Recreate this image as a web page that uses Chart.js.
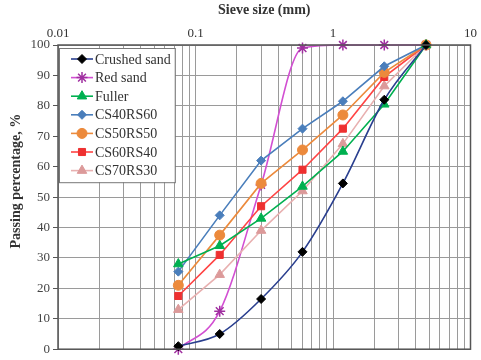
<!DOCTYPE html>
<html>
<head>
<meta charset="utf-8">
<script src="https://cdn.jsdelivr.net/npm/chart.js@4/dist/chart.umd.min.js"></script>
<style>
html,body{margin:0;padding:0;background:#fff;}
#wrap{width:481px;height:360px;position:relative;}
</style>
</head>
<body>
<div id="wrap"><canvas id="c" width="481" height="360"></canvas></div>
<script>
const sieveSizes = [0.075, 0.15, 0.3, 0.6, 1.18, 2.36, 4.75];
const crushedSand = [1, 5, 16.5, 32, 54.5, 82, 100];
const redSand = [0, 12.5, 54, 99, 100, 100, 100];
const fuller = [28, 34, 43, 53.5, 65, 80.5, 100];
const cs40rs60 = [25.5, 44, 62, 72.5, 81.5, 93, 100];
const cs50rs50 = [21, 37.5, 54.5, 65.5, 77, 91, 100];
const cs60rs40 = [17.5, 31, 47, 59, 72.5, 89.5, 100];
const cs70rs30 = [13, 24.5, 39, 52, 67.5, 86.5, 100];
const seriesNames = ['Crushed sand','Red sand','Fuller','CS40RS60','CS50RS50','CS60RS40','CS70RS30'];
const xTickLabels = [0.01, 0.1, 1, 10];
const yTicks = [0,10,20,30,40,50,60,70,80,90,100];
const yTitle = 'Passing percentage, %';

const pts = arr => arr.map((v,i)=>({x:sieveSizes[i], y:v}));
const styles = [
  {line:'#2a3f8f', fill:'#000000', pt:'rectRot', r:4.5, smooth:true, order:0},
  {line:'#d24fd2', fill:'#a030a0', pt:'star', r:5.5, smooth:true, order:10},
  {line:'#00b050', fill:'#00b050', pt:'triangle', r:5.5, order:2},
  {line:'#4a7ebb', fill:'#4a7ebb', pt:'rectRot', r:4.5, order:3},
  {line:'#ec8a3c', fill:'#ec8a3c', pt:'circle', r:5, order:4},
  {line:'#ff4444', fill:'#ee3030', pt:'rect', r:5, order:5},
  {line:'#e8b0b0', fill:'#dc9a9a', pt:'triangle', r:5.5, order:6}
];
const allData = [crushedSand, redSand, fuller, cs40rs60, cs50rs50, cs60rs40, cs70rs30];
const datasets = allData.map((d,i)=>({
  label: seriesNames[i],
  data: pts(d),
  borderColor: styles[i].line,
  backgroundColor: styles[i].fill,
  pointBackgroundColor: styles[i].fill,
  pointBorderColor: styles[i].fill,
  pointBorderWidth: styles[i].pt==='star' ? 1.5 : 1,
  pointStyle: styles[i].pt,
  pointRadius: styles[i].r,
  borderWidth: 1.6,
  cubicInterpolationMode: styles[i].smooth ? 'monotone' : 'default',
  tension: 0,
  clip: false,
  order: styles[i].order
}));

const serif = '"Liberation Serif", "DejaVu Serif", serif';

const frameAndLegend = {
  id:'frameAndLegend',
  afterDraw(chart){
    const ctx = chart.ctx, a = chart.chartArea;
    ctx.save();
    ctx.translate(16, (a.top + a.bottom)/2 - 16);
    ctx.rotate(-Math.PI/2);
    ctx.font = 'bold 14px ' + serif;
    ctx.fillStyle = '#333';
    ctx.textAlign = 'center';
    ctx.textBaseline = 'middle';
    ctx.fillText(yTitle, 0, 0);
    ctx.restore();
  },
  afterDatasetsDraw(chart){
    const ctx = chart.ctx, a = chart.chartArea;
    ctx.save();
    ctx.strokeStyle = '#555';
    ctx.lineWidth = 1.5;
    ctx.strokeRect(a.left, a.top, a.right - a.left, a.bottom - a.top);
    ctx.font = '14px ' + serif;
    let maxW = 0;
    seriesNames.forEach(n=>{ maxW = Math.max(maxW, ctx.measureText(n).width); });
    const bx = a.left + 1, by = a.top + 3;
    const rowH = 18.6;
    const bw = 12 + 22 + 2 + maxW + 4;
    const bh = rowH * seriesNames.length + 4;
    ctx.fillStyle = '#fff';
    ctx.fillRect(bx, by, bw, bh);
    ctx.strokeStyle = '#777';
    ctx.lineWidth = 1;
    ctx.strokeRect(bx+0.5, by+0.5, bw, bh);
    chart.data.datasets.forEach((ds,i)=>{
      const cy = by + 11 + i*rowH;
      const x0 = bx + 12, x1 = x0 + 22;
      ctx.strokeStyle = ds.borderColor;
      ctx.lineWidth = 1.6;
      ctx.beginPath(); ctx.moveTo(x0, cy); ctx.lineTo(x1, cy); ctx.stroke();
      ctx.fillStyle = ds.pointBackgroundColor;
      ctx.strokeStyle = ds.pointBorderColor;
      ctx.lineWidth = ds.pointBorderWidth;
      Chart.helpers.drawPoint(ctx, {pointStyle: ds.pointStyle, radius: ds.pointRadius, rotation:0, borderWidth: ds.pointBorderWidth}, (x0+x1)/2, cy);
      ctx.fillStyle = '#333';
      ctx.textBaseline = 'middle';
      ctx.textAlign = 'left';
      ctx.fillText(ds.label, x1 + 2, cy + 1);
    });
    ctx.restore();
  }
};

new Chart(document.getElementById('c'), {
  type: 'line',
  data: { datasets },
  plugins: [frameAndLegend],
  options: {
    responsive: false,
    animation: false,
    layout: { padding: { left: 0, top: 0, right: 10, bottom: 5 } },
    plugins: { legend: { display: false }, tooltip: { enabled: false } },
    scales: {
      x: {
        type: 'logarithmic',
        position: 'top',
        min: 0.01, max: 10,
        afterFit: s => { s.height = 45; },
        afterBuildTicks: s => {
          const t = [];
          for (let e = -2; e <= 0; e++) for (let m = 1; m <= 9; m++) t.push({value: +(m*Math.pow(10,e)).toPrecision(3)});
          t.push({value:10});
          s.ticks = t;
        },
        ticks: {
          autoSkip: false, maxRotation: 0, color: '#333',
          font: { family: serif, size: 13 },
          padding: 4,
          callback: v => xTickLabels.includes(+(+v).toPrecision(3)) ? String(+(+v).toPrecision(3)) : ''
        },
        grid: { color: '#9a9a9a', lineWidth: 1, drawTicks: false },
        border: { display: false },
        title: { display: true, text: 'Sieve size (mm)', color: '#333', font: { family: serif, size: 14, weight: 'bold' }, padding: { top: 2, bottom: 2 } }
      },
      y: {
        min: 0, max: 100,
        afterFit: s => { s.width = 58; },
        afterBuildTicks: s => { s.ticks = yTicks.map(v=>({value:v})); },
        ticks: { color: '#444', font: { family: serif, size: 13 }, padding: 3 },
        grid: { color: '#9a9a9a', lineWidth: 1, tickLength: 5, tickColor: '#555' },
        border: { display: false },
        title: { display: false }
      }
    }
  }
});
</script>
</body>
</html>
